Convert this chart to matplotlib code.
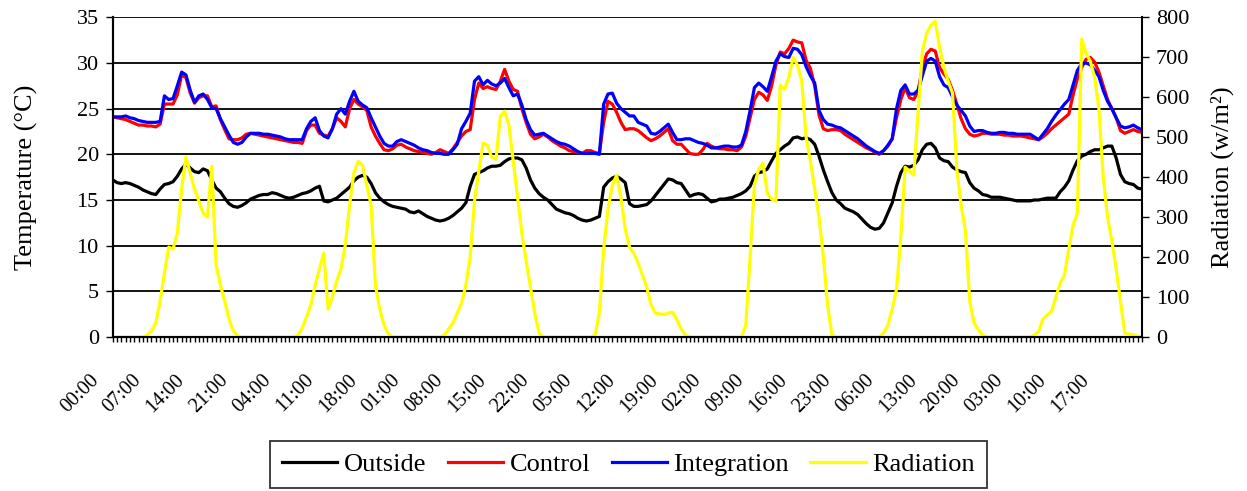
import matplotlib.pyplot as plt
import numpy as np

plt.rcParams['font.family'] = ['Liberation Serif', 'DejaVu Serif']

tick_labels = ["00:00", "07:00", "14:00", "21:00", "04:00", "11:00", "18:00", "01:00",
               "08:00", "15:00", "22:00", "05:00", "12:00", "19:00", "02:00", "09:00",
               "16:00", "23:00", "06:00", "13:00", "20:00", "03:00", "10:00", "17:00"]

outside = [17.2, 16.9, 16.8, 16.9, 16.8, 16.6, 16.4, 16.1, 15.9, 15.7,
           15.6, 16.2, 16.7, 16.8, 17.0, 17.6, 18.4, 18.9, 18.5, 18.1,
           18.0, 18.4, 18.2, 17.2, 16.3, 15.9, 15.2, 14.6, 14.3, 14.2,
           14.4, 14.7, 15.1, 15.3, 15.5, 15.6, 15.6, 15.8, 15.7, 15.5,
           15.3, 15.2, 15.3, 15.5, 15.7, 15.8, 16.0, 16.3, 16.5, 14.9,
           14.8, 15.0, 15.2, 15.6, 16.0, 16.4, 17.1, 17.5, 17.7, 17.5,
           16.8, 15.8, 15.2, 14.8, 14.5, 14.3, 14.2, 14.1, 14.0, 13.7,
           13.6, 13.8, 13.5, 13.2, 13.0, 12.8, 12.7, 12.8, 13.0, 13.3,
           13.7, 14.1, 14.7, 16.5, 17.8, 18.0, 18.2, 18.5, 18.7, 18.7,
           18.8, 19.2, 19.5, 19.6, 19.6, 19.4, 18.5, 17.2, 16.3, 15.7,
           15.3, 15.0, 14.5, 14.0, 13.8, 13.6, 13.5, 13.3, 13.0, 12.8,
           12.7, 12.8, 13.0, 13.2, 16.4, 17.0, 17.4, 17.6, 17.3, 16.9,
           14.6, 14.3, 14.3, 14.4, 14.5, 14.9, 15.5, 16.1, 16.7, 17.3,
           17.2, 16.9, 16.8, 16.1, 15.4, 15.6, 15.7, 15.6, 15.2, 14.8,
           14.9, 15.1, 15.1, 15.2, 15.3, 15.5, 15.7, 16.0, 16.5, 17.6,
           18.0, 18.1, 18.4, 19.3, 20.1, 20.5, 20.9, 21.2, 21.8, 21.9,
           21.7, 21.8, 21.6, 21.1, 19.8, 18.3, 17.0, 15.8, 15.0, 14.6,
           14.1, 13.9, 13.7, 13.4, 12.9, 12.4, 12.0, 11.8, 11.9, 12.5,
           13.6, 14.7, 16.5, 18.0, 18.7, 18.6, 18.8, 19.4, 20.5, 21.1,
           21.2, 20.7, 19.6, 19.3, 19.2, 18.6, 18.3, 18.1, 18.0, 16.9,
           16.3, 16.0, 15.6, 15.5, 15.3, 15.3, 15.3, 15.2, 15.1, 15.0,
           14.9, 14.9, 14.9, 14.9, 15.0, 15.0, 15.1, 15.2, 15.2, 15.2,
           15.9, 16.4, 17.1, 18.3, 19.3, 19.8, 20.0, 20.3, 20.5, 20.5,
           20.7, 20.9, 20.9, 19.6, 17.8, 17.0, 16.8, 16.7, 16.3, 16.2]

control = [24.1, 24.0, 23.9, 23.8, 23.6, 23.4, 23.2, 23.2, 23.1, 23.1,
           23.0, 23.3, 25.5, 25.5, 25.5, 26.5, 28.7, 28.4, 26.7, 25.6,
           26.2, 26.4, 26.4, 25.2, 25.3, 23.8, 22.7, 21.7, 21.6, 21.6,
           21.8, 22.2, 22.3, 22.2, 22.1, 22.0, 21.9, 21.8, 21.7, 21.6,
           21.5, 21.4, 21.3, 21.3, 21.2, 22.6, 23.2, 23.2, 22.3, 22.1,
           22.0, 22.8, 24.0, 23.6, 23.0, 25.0, 26.0, 25.5, 25.2, 24.8,
           23.0, 22.0, 21.2, 20.5, 20.4, 20.6, 21.0, 21.1, 20.8, 20.6,
           20.4, 20.3, 20.2, 20.1, 20.0, 20.2, 20.5, 20.3, 20.1, 20.6,
           21.3, 22.0, 22.5, 22.7, 26.0, 27.8, 27.2, 27.4, 27.2, 27.1,
           28.0, 29.3, 28.0, 27.1, 26.9, 25.0, 23.5, 22.2, 21.7, 21.9,
           22.2, 21.9, 21.5, 21.2, 20.9, 20.7, 20.4, 20.3, 20.2, 20.1,
           20.4, 20.4, 20.2, 20.1, 23.5, 25.8, 25.5, 24.6, 23.5, 22.7,
           22.8, 22.8, 22.6, 22.2, 21.8, 21.5, 21.7, 22.0, 22.4, 22.8,
           21.5, 21.1, 21.1, 20.6, 20.1, 20.0, 20.0, 20.5, 21.2, 20.9,
           20.7, 20.6, 20.6, 20.5, 20.5, 20.4, 20.8, 22.0, 24.0, 26.0,
           26.8, 26.5, 25.9, 27.5, 29.8, 31.2, 31.0, 31.6, 32.5, 32.3,
           32.2, 30.3, 29.4, 27.5, 24.3, 22.8, 22.6, 22.7, 22.7, 22.6,
           22.2, 21.9, 21.6, 21.3, 21.0, 20.7, 20.5, 20.2, 20.0, 20.4,
           20.9, 21.7, 24.0, 26.0, 27.3, 26.2, 26.0, 26.9, 29.5, 31.0,
           31.5, 31.3, 29.5, 28.8, 28.2, 27.0, 25.5, 23.9, 22.8, 22.2,
           22.0, 22.1, 22.3, 22.3, 22.2, 22.2, 22.2, 22.1, 22.1, 22.0,
           22.0, 22.0, 21.9, 21.8, 21.7, 21.6, 21.9, 22.3, 22.8, 23.2,
           23.6, 24.0, 24.4, 26.5, 28.3, 29.5, 30.4, 30.6, 30.1, 29.0,
           27.5, 26.0, 25.0, 24.0, 22.6, 22.3, 22.5, 22.7, 22.5, 22.4]

integration = [24.1, 24.1, 24.1, 24.2, 24.0, 23.9, 23.7, 23.6, 23.5, 23.5,
               23.5, 23.6, 26.4, 26.0, 26.1, 27.5, 29.0, 28.7, 27.0, 25.7,
               26.4, 26.6, 26.0, 25.1, 25.0, 23.9, 23.0, 22.1, 21.3, 21.1,
               21.3, 21.9, 22.3, 22.3, 22.3, 22.2, 22.2, 22.1, 22.0, 21.9,
               21.7, 21.6, 21.6, 21.6, 21.6, 22.8, 23.6, 24.0, 22.6, 22.0,
               21.8, 22.8, 24.4, 25.0, 24.4, 25.8, 26.9, 25.8, 25.4, 25.1,
               24.0, 23.0, 22.0, 21.2, 20.9, 20.9, 21.4, 21.6, 21.4, 21.2,
               21.0, 20.7, 20.5, 20.4, 20.2, 20.1, 20.1, 20.0, 20.0, 20.5,
               21.1, 22.8, 23.6, 24.5, 28.0, 28.5, 27.6, 28.1, 27.7, 27.5,
               27.8, 28.3, 27.3, 26.4, 26.6, 25.4, 23.8, 22.7, 22.1, 22.2,
               22.3, 22.0, 21.7, 21.4, 21.2, 21.1, 20.9, 20.6, 20.3, 20.1,
               20.1, 20.1, 20.1, 20.0, 25.5, 26.6, 26.7, 25.6, 25.0, 24.6,
               24.2, 24.2, 23.5, 23.3, 23.1, 22.3, 22.2, 22.5, 22.9, 23.3,
               22.4, 21.6, 21.6, 21.7, 21.7, 21.5, 21.3, 21.2, 21.0, 20.7,
               20.7, 20.8, 20.9, 20.9, 20.8, 20.8, 21.0, 22.5, 24.8, 27.3,
               27.8, 27.4, 26.9, 28.5, 30.2, 31.0, 30.7, 30.6, 31.6, 31.5,
               30.9, 29.6, 28.6, 27.8, 24.8, 23.8, 23.3, 23.2, 23.0, 22.9,
               22.6, 22.3, 22.0, 21.7, 21.3, 20.9, 20.6, 20.3, 20.1, 20.4,
               21.0, 21.7, 25.0, 27.0, 27.6, 26.6, 26.6, 27.0, 28.6, 30.2,
               30.5, 30.2, 28.5, 27.6, 27.3, 26.3, 25.4, 24.8, 24.2, 23.1,
               22.5, 22.6, 22.6, 22.4, 22.3, 22.3, 22.4, 22.4, 22.3, 22.3,
               22.2, 22.2, 22.2, 22.2, 21.9, 21.6, 22.2, 22.8, 23.6, 24.3,
               24.9, 25.5, 26.0, 27.6, 29.2, 29.9, 30.0, 29.8, 29.2, 28.5,
               27.0, 25.8, 25.0, 24.0, 23.1, 22.9, 23.0, 23.2, 22.9, 22.7]

radiation = [0, 0, 0, 0, 0, 0, 0, 0, 5, 15,
             35, 90, 160, 225, 220, 260, 370, 450, 410, 370,
             340, 310, 300, 427, 180, 130, 90, 45, 15, 3,
             0, 0, 0, 0, 0, 0, 0, 0, 0, 0,
             0, 0, 0, 5, 22, 50, 80, 130, 170, 210,
             70, 100, 140, 170, 230, 330, 410, 440, 430, 380,
             330, 130, 70, 30, 8, 0, 0, 0, 0, 0,
             0, 0, 0, 0, 0, 0, 0, 5, 20, 35,
             60, 85, 130, 200, 340, 415, 485, 480, 450, 445,
             552, 565, 530, 440, 350, 260, 190, 125, 60, 10,
             0, 0, 0, 0, 0, 0, 0, 0, 0, 0,
             0, 0, 5, 60, 220, 320, 380, 405, 350, 270,
             225, 210, 185, 155, 125, 80, 60, 58, 56, 60,
             62, 43, 20, 5, 0, 0, 0, 0, 0, 0,
             0, 0, 0, 0, 0, 0, 0, 30, 200, 380,
             420, 435, 360, 345, 340, 630, 620, 650, 700, 680,
             640, 500, 440, 370, 300, 200, 80, 5, 0, 0,
             0, 0, 0, 0, 0, 0, 0, 0, 0, 10,
             30, 70, 120, 250, 425, 415, 405, 560, 715, 760,
             780, 790, 725, 675, 640, 610, 420, 330, 265, 90,
             35, 18, 5, 0, 0, 0, 0, 0, 0, 0,
             0, 0, 0, 0, 5, 14, 45, 55, 64, 100,
             135, 155, 220, 280, 310, 745, 710, 690, 650, 570,
             400, 300, 240, 170, 90, 10, 7, 6, 2, 0]

x = np.arange(len(outside))
label_pos = np.arange(0, len(x), 10)

fig = plt.figure(figsize=(12.47, 4.91), dpi=100)
ax = fig.add_axes([0.0904, 0.3136, 0.8254, 0.6512])
ax2 = ax.twinx()

l1, = ax.plot(x, outside, color="black", lw=2.3, label="Outside")
l2, = ax.plot(x, control, color="#ff0000", lw=2.3, label="Control")
l3, = ax.plot(x, integration, color="#0000ff", lw=2.3, label="Integration")
l4, = ax2.plot(x, radiation, color="#ffff00", lw=2.3, label="Radiation")

ax.set_xlim(0, len(x) - 1)
ax.set_ylim(0, 35)
ax.set_yticks(np.arange(0, 36, 5))
ax2.set_ylim(0, 800)
ax2.set_yticks(np.arange(0, 801, 100))

ax.set_xticks(label_pos)
ax.set_xticks(x, minor=True)
ax.set_xticklabels([])
# rotated time labels, placed like the Excel ones
for pos, lab in zip(label_pos, tick_labels):
    ax.annotate(lab, xy=(pos, 0), xycoords=("data", "axes fraction"),
                xytext=(-17, -24), textcoords="offset points", rotation=45,
                ha="right", va="top", rotation_mode="anchor", fontsize=14.5)

ax.grid(axis="y", color="black", lw=1.3)
ax.set_axisbelow(True)

for a in (ax, ax2):
    a.spines["top"].set_visible(False)
    for s in a.spines.values():
        s.set_linewidth(1.5)
ax.spines["right"].set_visible(False)

ax.tick_params(axis="x", which="both", direction="out", length=3.5, width=1)
ax.tick_params(axis="y", direction="out", length=5, width=1, labelsize=16, pad=5)
ax2.tick_params(axis="y", direction="out", length=5, width=1, labelsize=16, pad=5)

ax.set_ylabel("Temperature (°C)", fontsize=19, labelpad=28)
ax2.set_ylabel("Radiation (w/m²)", fontsize=19, labelpad=15)

leg = fig.legend([l1, l2, l3, l4], ["Outside", "Control", "Integration", "Radiation"],
                 loc="lower center", bbox_to_anchor=(0.504, 0.0), ncol=4, fontsize=19,
                 frameon=True, fancybox=False, edgecolor="black", handlelength=2.1,
                 columnspacing=0.8, handletextpad=0.25, borderpad=0.45, borderaxespad=0.1)
leg.get_frame().set_linewidth(1.3)

plt.savefig("out.png", dpi=100)
